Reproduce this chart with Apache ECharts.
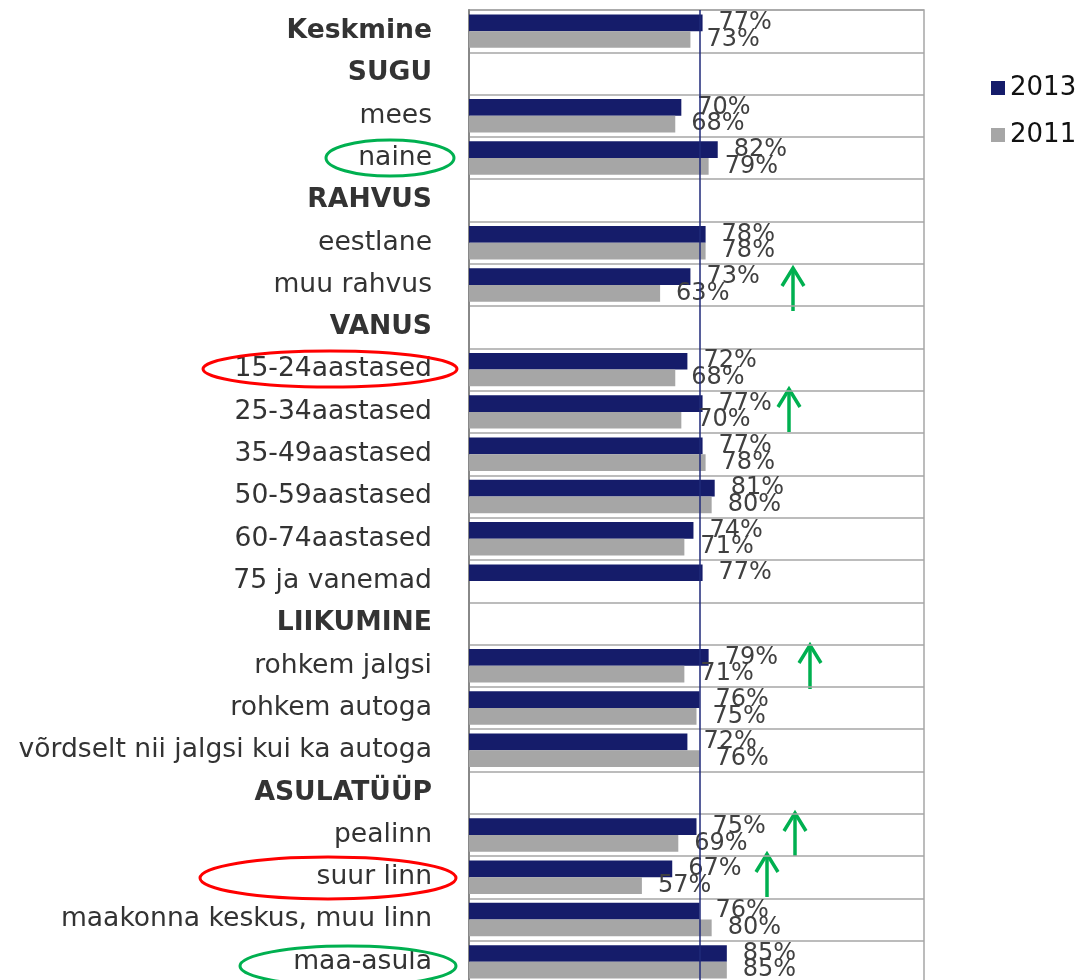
<!DOCTYPE html>
<html lang="et" style="height: 100%">
<head>
    <meta charset="UTF-8">
    <title>Rahulolu</title>
    <script type="text/javascript" src="https://cdn.jsdelivr.net/npm/echarts@6/dist/echarts.min.js"></script>
</head>
<body style="height: 100%;margin: 0;background:#fff">

<div id="contar" style="width:1078px;height:980px"></div>

<script type="text/javascript">
    // kategooriad ülevalt alla
    var categories = ['Keskmine', 'SUGU', 'mees', 'naine', 'RAHVUS', 'eestlane', 'muu rahvus',
        'VANUS', '15-24aastased', '25-34aastased', '35-49aastased', '50-59aastased', '60-74aastased',
        '75 ja vanemad', 'LIIKUMINE', 'rohkem jalgsi', 'rohkem autoga', 'võrdselt nii jalgsi kui ka autoga',
        'ASULATÜÜP', 'pealinn', 'suur linn', 'maakonna keskus, muu linn', 'maa-asula'];
    var headerRows = ['Keskmine', 'SUGU', 'RAHVUS', 'VANUS', 'LIIKUMINE', 'ASULATÜÜP'];
    var data2013 = [77, null, 70, 82, null, 78, 73, null, 72, 77, 77, 81, 74, 77, null, 79, 76, 72, null, 75, 67, 76, 85];
    var data2011 = [73, null, 68, 79, null, 78, 63, null, 68, 70, 78, 80, 71, null, null, 71, 75, 76, null, 69, 57, 80, 85];
    var averageLine = 76;

    var font = 'DejaVu Sans';
    var green = '#00B050';
    var red = '#FF0000';

    function ellipse(cx, cy, rx, ry, color) {
        return {
            type: 'ellipse', z: 100, silent: true,
            shape: {cx: cx, cy: cy, rx: rx, ry: ry},
            style: {fill: 'none', stroke: color, lineWidth: 3}
        };
    }
    function arrow(x, tip, bottom) {
        return {
            type: 'group', z: 100, silent: true,
            children: [
                {type: 'polyline', shape: {points: [[x, bottom], [x, tip + 2]]},
                    style: {stroke: green, lineWidth: 3.5, fill: 'none'}},
                {type: 'polyline', shape: {points: [[x - 11, tip + 19], [x, tip + 1], [x + 11, tip + 19]]},
                    style: {stroke: green, lineWidth: 3.5, fill: 'none'}}
            ]
        };
    }

    var chart = echarts.init(document.getElementById('contar'));
    var option = {
        animation: false,
        textStyle: {fontFamily: font},
        grid: {
            left: 469, top: 10, width: 455, height: 973,
            outerBoundsMode: 'none',
            show: true, borderColor: '#A6A6A6', borderWidth: 1.5
        },
        legend: {
            orient: 'vertical',
            left: 986, top: 70,
            itemWidth: 14, itemHeight: 14, itemGap: 21,
            icon: 'rect',
            textStyle: {fontFamily: font, fontSize: 26, color: '#111'},
            data: ['2013', '2011']
        },
        xAxis: {
            type: 'value', min: 0, max: 150,
            axisLabel: {show: false}, axisLine: {show: false}, axisTick: {show: false},
            splitLine: {show: false}
        },
        yAxis: {
            type: 'category', inverse: true, data: categories,
            axisTick: {show: false},
            axisLine: {lineStyle: {color: '#888', width: 2}},
            splitLine: {show: true, lineStyle: {color: '#A6A6A6', width: 1.5}},
            axisLabel: {
                margin: 37, fontFamily: font, fontSize: 26.6, color: '#333',
                formatter: function (v) {
                    return headerRows.indexOf(v) >= 0 ? '{b|' + v + '}' : v;
                },
                rich: {b: {fontFamily: font, fontSize: 26.6, fontWeight: 'bold', color: '#333'}}
            }
        },
        series: [
            {
                name: '2013', type: 'bar', data: data2013,
                barGap: '0%', barCategoryGap: '21%',
                itemStyle: {color: '#151C6A'},
                label: {show: true, position: 'right', distance: 16, formatter: '{c}%',
                    fontFamily: font, fontSize: 24, color: '#404040'},
                markLine: {
                    silent: true, symbol: 'none', label: {show: false},
                    lineStyle: {color: '#1F2A7A', width: 1.5, type: 'solid'},
                    data: [{xAxis: averageLine}]
                }
            },
            {
                name: '2011', type: 'bar', data: data2011,
                barGap: '0%', barCategoryGap: '21%',
                itemStyle: {color: '#A6A6A6'},
                label: {show: true, position: 'right', distance: 16, formatter: '{c}%',
                    fontFamily: font, fontSize: 24, color: '#404040'}
            }
        ],
        graphic: [
            ellipse(390, 158, 64, 18, green),
            ellipse(330, 369, 127, 18, red),
            ellipse(328, 878, 128, 21, red),
            ellipse(348, 966, 108, 20, green),
            arrow(793, 267, 311),
            arrow(789, 388, 432),
            arrow(810, 644, 689),
            arrow(795, 812, 856),
            arrow(767, 853, 897)
        ]
    };
    chart.setOption(option);
</script>

</body>
</html>
